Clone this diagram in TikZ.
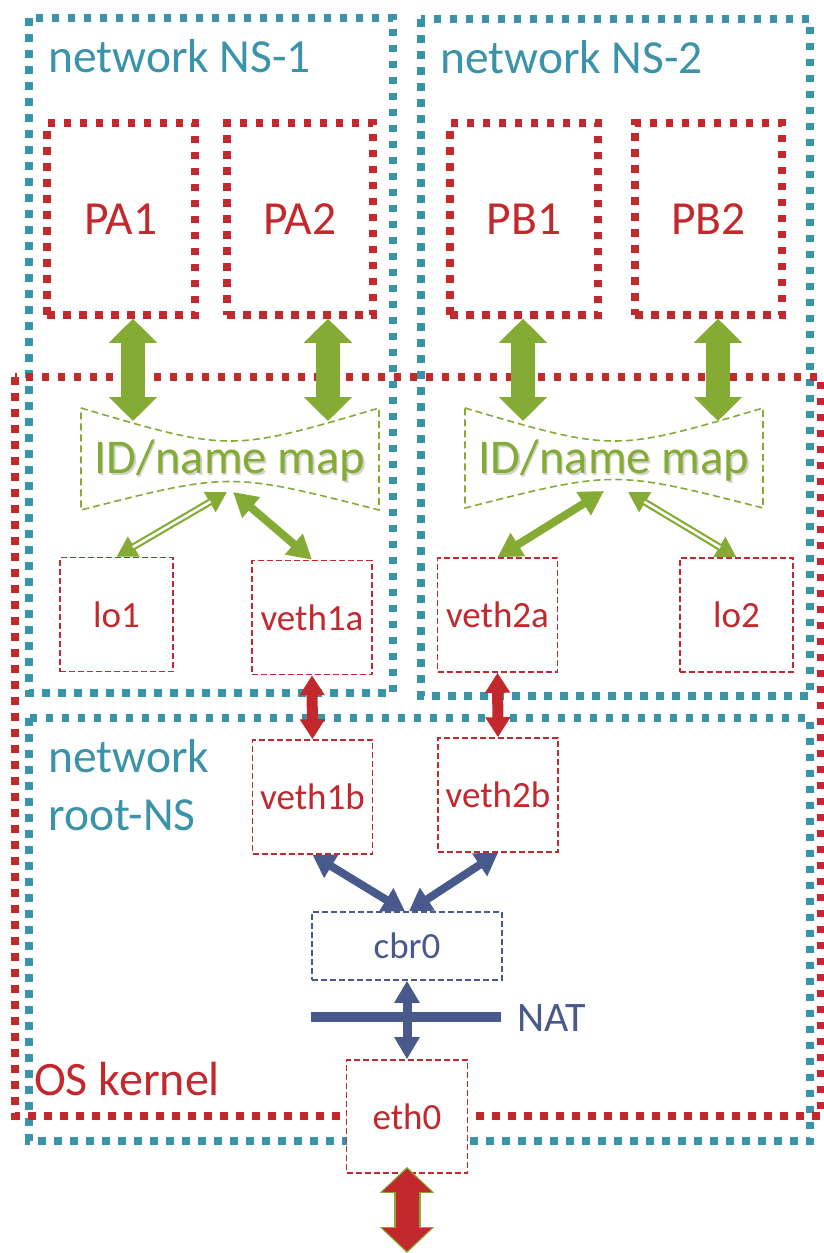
\documentclass[tikz,border=0pt]{standalone}
\usepackage{fontspec}
\setmainfont{Carlito}
\usetikzlibrary{arrows.meta,calc}
\definecolor{nsblue}{HTML}{3A93A9}
\definecolor{kred}{HTML}{C3282D}
\definecolor{kgreen}{HTML}{84AB33}
\definecolor{knavy}{HTML}{475A8B}
\newcommand\bigfont{\fontsize{47.5}{57}\selectfont}
\newcommand\midfont{\fontsize{37}{44}\selectfont}
\tikzset{
  nsdot/.style={draw=nsblue, line width=7.5pt, dash pattern=on 7.5pt off 8.5pt},
  kdot/.style={draw=kred, line width=7.5pt, dash pattern=on 7.5pt off 8.5pt},
  pbox/.style={draw=kred, line width=7.5pt, dash pattern=on 7.5pt off 8.5pt,
    minimum height=192pt, inner sep=0pt, text=kred, font=\bigfont},
  ifbox/.style={draw=kred, line width=1.6pt, dash pattern=on 6pt off 3pt, fill=white,
    minimum width=120pt, minimum height=114pt, inner sep=0pt, text=kred, font=\midfont},
  lbl/.style={inner sep=0pt, font=\bigfont},
  mapline/.style={draw=kgreen, line width=1.6pt, dash pattern=on 7pt off 4pt},
  maptxt/.style={inner sep=0pt, font=\fontsize{48.5}{58}\selectfont, text=kgreen},
  gblk/.style={kgreen, line width=24pt,
    {Triangle[length=24pt,width=47pt]}-{Triangle[length=24pt,width=47pt]}},
  gsolid/.style={kgreen, line width=8pt,
    {Triangle[length=24pt,width=26pt]}-{Triangle[length=24pt,width=26pt]}},
  gdbl/.style={kgreen, line width=7pt,
    {Triangle[length=20pt,width=22pt]}-{Triangle[length=20pt,width=22pt]}},
  rarr/.style={kred, line width=11pt,
    {Triangle[length=20pt,width=24pt]}-{Triangle[length=20pt,width=24pt]}},
  narr/.style={knavy, line width=8pt,
    {Triangle[length=22pt,width=26pt]}-{Triangle[length=22pt,width=26pt]}},
  narrv/.style={knavy, line width=9pt,
    {Triangle[length=22pt,width=24pt]}-{Triangle[length=22pt,width=24pt]}},
  routl/.style={kgreen, line width=27pt, shorten <=-2pt, shorten >=-2pt,
    {Triangle[length=26pt,width=53pt]}-{Triangle[length=26pt,width=53pt]}},
  rblk/.style={kred, line width=23pt,
    {Triangle[length=23pt,width=48pt]}-{Triangle[length=23pt,width=48pt]}},
}
\newcommand\dblgreen[2]{%
  \draw[gdbl] (#1) -- (#2);
  \draw[white, line width=2.6pt] ($(#1)!19pt!(#2)$) -- ($(#2)!19pt!(#1)$);}
\begin{document}
\begin{tikzpicture}[x=1pt,y=-1pt]
\useasboundingbox (0,0) rectangle (824,1253);
% containers
\draw[nsdot] (29,18) rectangle (393,693);
\draw[nsdot] (421,19) rectangle (810,696);
\draw[nsdot] (29,718) rectangle (810,1141);
\draw[kdot] (15,377) rectangle (821,1116);
% container labels
\node[lbl, text=nsblue, anchor=base west] (ns1lbl) at (48,72) {network NS-1};
\node[lbl, text=nsblue, anchor=base west] (ns2lbl) at (440,73) {network NS-2};
\node[lbl, text=nsblue, anchor=base west] (rootlbla) at (48,772) {network};
\node[lbl, text=nsblue, anchor=base west] (rootlblb) at (48,830) {root-NS};
\node[lbl, text=kred, anchor=base west, font=\fontsize{48}{57}\selectfont] (oslbl) at (34,1095) {OS kernel};
% processes
\node[pbox, minimum width=148pt] (PA1) at (121,219) {PA1};
\node[pbox, minimum width=146pt] (PA2) at (300,219) {PA2};
\node[pbox, minimum width=148pt] (PB1) at (524,219) {PB1};
\node[pbox, minimum width=147pt] (PB2) at (708.5,219) {PB2};
% ID/name maps
\draw[mapline] (81,408) .. controls (230,452) .. (379,408) -- (379,510)
  .. controls (230,472) .. (81,510) -- cycle;
\draw[mapline] (465,408) .. controls (614,452) .. (763,408) -- (763,508)
  .. controls (614,470) .. (465,508) -- cycle;
\node[maptxt, text=black!18] (map1s) at (231.3,462.8) {ID/name map};
\node[maptxt] (map1) at (230,461) {ID/name map};
\node[maptxt, text=black!18] (map2s) at (615.3,462.8) {ID/name map};
\node[maptxt] (map2) at (614,461) {ID/name map};
\coordinate (m1a) at (133,421);
\coordinate (m1b) at (328,421);
\coordinate (m2a) at (523,421);
\coordinate (m2b) at (718,421);
\coordinate (m1l) at (227,492);
\coordinate (m1r) at (233,492);
\coordinate (m2l) at (604,491);
\coordinate (m2r) at (628,492);
% interfaces
\node[ifbox, minimum width=113pt] (lo1) at (116.5,614.5) {lo1};
\node[ifbox] (veth1a) at (312,617.5) {veth1a};
\node[ifbox] (veth2a) at (497.5,615) {veth2a};
\node[ifbox, minimum width=113pt] (lo2) at (736.5,615) {lo2};
\node[ifbox] (veth1b) at (312.5,797) {veth1b};
\node[ifbox] (veth2b) at (498,795) {veth2b};
\node[ifbox, draw=knavy, text=knavy, minimum width=190pt, minimum height=68pt] (cbr0) at (407,946) {cbr0};
\node[ifbox, minimum width=121pt, minimum height=113pt] (eth0) at (407,1116.5) {eth0};
% NAT
\coordinate (natL) at (311,1017);
\coordinate (natR) at (501,1017);
\draw[knavy, line width=10pt] (natL) -- (natR);
\node[lbl, text=knavy, anchor=west, font=\fontsize{42}{50}\selectfont] (natlbl) at (517,1018) {NAT};
% arrows
\draw[gblk] (PA1.south -| m1a) -- (m1a);
\draw[gblk] (PA2.south -| m1b) -- (m1b);
\draw[gblk] (PB1.south -| m2a) -- (m2a);
\draw[gblk] (PB2.south -| m2b) -- (m2b);
\dblgreen{m1l}{lo1.north}
\draw[gsolid] (m1r) -- (veth1a.north);
\draw[gsolid] (m2l) -- (veth2a.north);
\dblgreen{m2r}{lo2.north}
\draw[rarr] (veth1a.south) -- (veth1b.north);
\draw[rarr] (veth2a.south) -- (veth2b.north);
\coordinate (cbrL) at ($(cbr0.north)+(-2,0)$);
\coordinate (cbrR) at ($(cbr0.north)+(2,0)$);
\draw[narr] (veth1b.south) -- (cbrL);
\draw[narr] (veth2b.south) -- (cbrR);
\draw[narrv] (cbr0.south) -- (eth0.north);
\coordinate (ethout) at ($(eth0.south)+(0,-5)$);
\coordinate (wire) at (407,1251);
\draw[routl] (ethout) -- (wire);
\draw[rblk] (ethout) -- (wire);
\end{tikzpicture}
\end{document}
